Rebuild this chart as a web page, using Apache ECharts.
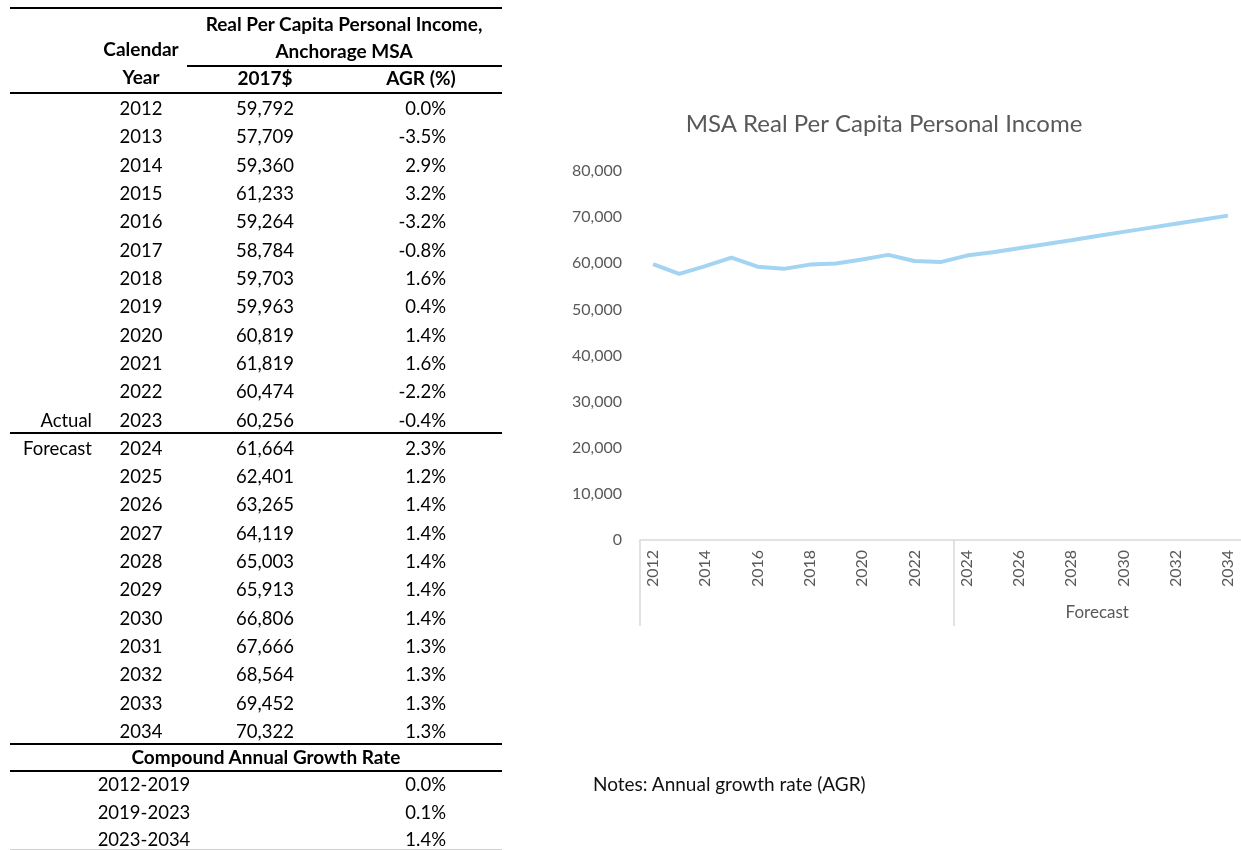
<!DOCTYPE html>
<html>
<head>
<meta charset="utf-8">
<script src="https://cdn.jsdelivr.net/npm/echarts@6/dist/echarts.min.js"></script>
<style>
  html, body { margin:0; padding:0; background:#fff; }
  body { width:1241px; height:850px; position:relative; overflow:hidden; font-family: Lato, "Open Sans", sans-serif; }
  #chart { position:absolute; left:0; top:0; width:1241px; height:850px; z-index:0; }
  #table { position:absolute; left:0; top:0; width:560px; height:850px; z-index:1; pointer-events:none; }
  .t { position:absolute; font-size:18.5px; color:#000; white-space:nowrap; line-height:22px; height:22px; }
  .b { font-weight:bold; font-size:19px; }
  .ln { position:absolute; background:#000; }
  #notes { position:absolute; left:593px; top:773px; font-size:19px; color:#111; z-index:1; line-height:22px; }
</style>
</head>
<body>
<div id="chart"></div>
<div id="table"></div>
<div id="notes">Notes: Annual growth rate (AGR)</div>
<script>
// ---- data ----
const years = ['2012','2013','2014','2015','2016','2017','2018','2019','2020','2021','2022','2023',
               '2024','2025','2026','2027','2028','2029','2030','2031','2032','2033','2034'];
const income = [59792,57709,59360,61233,59264,58784,59703,59963,60819,61819,60474,60256,
                61664,62401,63265,64119,65003,65913,66806,67666,68564,69452,70322];
const agr = ['0.0%','-3.5%','2.9%','3.2%','-3.2%','-0.8%','1.6%','0.4%','1.4%','1.6%','-2.2%','-0.4%',
             '2.3%','1.2%','1.4%','1.4%','1.4%','1.4%','1.4%','1.3%','1.3%','1.3%','1.3%'];
const cagrPeriods = ['2012-2019','2019-2023','2023-2034'];
const cagrValues = ['0.0%','0.1%','1.4%'];
const yTicks = [0,10000,20000,30000,40000,50000,60000,70000,80000];
const groupLabel = 'Forecast';
const actualCount = 12; // 2012-2023 are actual

// ---- table ----
const tbl = document.getElementById('table');
function txt(s, x, yc, align, bold) {
  const d = document.createElement('div');
  d.className = 't' + (bold ? ' b' : '');
  d.textContent = s;
  d.style.top = (yc - 11) + 'px';
  if (align === 'center') { d.style.left = (x - 200) + 'px'; d.style.width = '400px'; d.style.textAlign = 'center'; }
  else if (align === 'right') { d.style.left = (x - 300) + 'px'; d.style.width = '300px'; d.style.textAlign = 'right'; }
  else { d.style.left = x + 'px'; }
  tbl.appendChild(d);
}
function line(x1, x2, y, h, color) {
  const d = document.createElement('div');
  d.className = 'ln';
  d.style.left = x1 + 'px'; d.style.width = (x2 - x1) + 'px';
  d.style.top = y + 'px'; d.style.height = h + 'px';
  if (color) d.style.background = color;
  tbl.appendChild(d);
}
line(10, 502, 7, 2);
txt('Real Per Capita Personal Income,', 344, 24, 'center', true);
txt('Anchorage MSA', 344, 51, 'center', true);
txt('Calendar', 141, 49, 'center', true);
txt('Year', 141, 77, 'center', true);
line(187, 502, 65, 1.5);
txt('2017$', 265, 78, 'center', true);
txt('AGR (%)', 421, 78, 'center', true);
line(10, 502, 92, 1.5);
const rowStep = 28.32;
years.forEach((y, i) => {
  const yc = 108 + i * rowStep;
  txt(y, 141, yc, 'center', false);
  txt(income[i].toLocaleString('en-US'), 265, yc, 'center', false);
  txt(agr[i], 446, yc, 'right', false);
});
txt('Actual', 92, 108 + 11 * rowStep, 'right', false);
txt('Forecast', 92, 108 + 12 * rowStep, 'right', false);
line(10, 502, 432, 1.5);
line(10, 502, 743, 1.5);
txt('Compound Annual Growth Rate', 266, 757, 'center', true);
line(10, 502, 770, 1.5);
cagrPeriods.forEach((p, i) => {
  const yc = 784 + i * 27.5;
  txt(p, 144, yc, 'center', false);
  txt(cagrValues[i], 446, yc, 'right', false);
});
line(10, 502, 849, 1, '#d0d0d0');

// ---- chart ----
const chart = echarts.init(document.getElementById('chart'), null, { renderer: 'canvas' });
const grey = '#595959';
chart.setOption({
  backgroundColor: 'transparent',
  animation: false,
  title: {
    text: 'MSA Real Per Capita Personal Income',
    left: 879, top: 107, textAlign: 'center',
    textStyle: { fontFamily: 'Lato', fontSize: 24, fontWeight: 'normal', color: grey }
  },
  grid: { left: 640, top: 171, right: -4, bottom: 310, containLabel: false },
  xAxis: [
    {
      type: 'category', data: years, boundaryGap: true, position: 'bottom',
      axisLine: { show: true, lineStyle: { color: '#d9d9d9', width: 1.5 } },
      axisTick: { show: false },
      axisLabel: { interval: 1, rotate: 90, margin: 10, color: grey, fontFamily: 'Lato', fontSize: 16 }
    },
    {
      type: 'value', min: 0, max: years.length, position: 'bottom', offset: 0,
      axisLine: { show: false },
      splitLine: { show: false },
      axisTick: { show: true, customValues: [0, actualCount], length: 86, lineStyle: { color: '#d9d9d9', width: 1.5 } },
      axisLabel: { show: true, customValues: [(actualCount + years.length) / 2], margin: 64,
                   formatter: () => groupLabel, color: grey, fontFamily: 'Lato', fontSize: 17 }
    }
  ],
  yAxis: {
    type: 'value', min: yTicks[0], max: yTicks[yTicks.length - 1], interval: 10000,
    axisLine: { show: false }, axisTick: { show: false }, splitLine: { show: false },
    axisLabel: { margin: 18, color: grey, fontFamily: 'Lato', fontSize: 16,
                 formatter: v => v.toLocaleString('en-US') }
  },
  series: [{
    type: 'line', data: income, xAxisIndex: 0, showSymbol: false, symbol: 'none',
    lineStyle: { color: '#A3D4F2', width: 4 }
  }]
});
</script>
</body>
</html>
